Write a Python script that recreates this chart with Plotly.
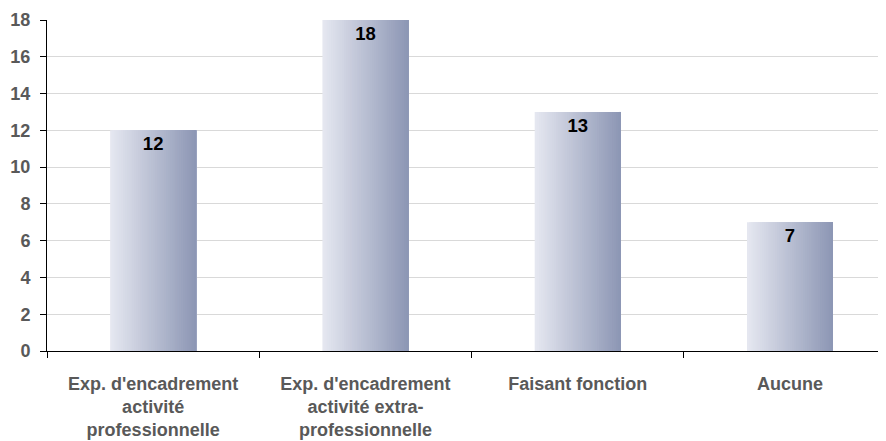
import plotly.graph_objects as go

categories = [
    "Exp. d'encadrement<br>activité<br>professionnelle",
    "Exp. d'encadrement<br>activité extra-<br>professionnelle",
    "Faisant fonction",
    "Aucune",
]
values = [12, 18, 13, 7]
y_ticks = [0, 2, 4, 6, 8, 10, 12, 14, 16, 18]

FONT = "Liberation Sans, Arial, sans-serif"
BAR_W = 0.405
N_SLICES = 40
LEFT_RGB = (0xE6, 0xE8, 0xF1)
RIGHT_RGB = (0x8C, 0x96, 0xB4)


def mix(t):
    r, g, b = (round(a + (c - a) * t) for a, c in zip(LEFT_RGB, RIGHT_RGB))
    return f"rgb({r},{g},{b})"


fig = go.Figure()

# horizontal gradient: overlapping slices, each running to the bar's right edge
for i in range(N_SLICES):
    t = (i + 0.5) / N_SLICES
    fig.add_trace(go.Bar(
        x=categories, y=values,
        width=BAR_W * (1 - i / N_SLICES),
        offset=-BAR_W / 2 + BAR_W * i / N_SLICES,
        marker=dict(color=mix(t), line=dict(width=0)),
        hoverinfo="skip", showlegend=False,
    ))

# value labels
fig.add_trace(go.Bar(
    x=categories, y=values,
    width=BAR_W, offset=-BAR_W / 2,
    marker=dict(color="rgba(0,0,0,0)", line=dict(width=0)),
    text=[str(v) for v in values],
    textposition="inside", insidetextanchor="end", textangle=0,
    textfont=dict(family=FONT, size=18.5, color="black", weight="bold"),
    showlegend=False,
))

fig.update_layout(
    width=886, height=441,
    margin=dict(l=39, r=0, t=12, b=98),
    paper_bgcolor="white", plot_bgcolor="white",
    barmode="overlay", showlegend=False,
    xaxis=dict(
        type="category", range=[-0.5, 3.49],
        tickson="boundaries", ticks="outside", ticklen=6, tickcolor="black",
        showline=True, linecolor="black", linewidth=1,
        showgrid=False, zeroline=False,
        tickfont=dict(family=FONT, size=18, color="#595959", weight="bold"),
        ticklabelstandoff=16,
    ),
    yaxis=dict(
        range=[0, 18], tickvals=y_ticks,
        ticks="outside", ticklen=6, tickcolor="black",
        showline=True, linecolor="black", linewidth=1,
        showgrid=True, gridcolor="#d9d9d9", gridwidth=1, zeroline=False,
        tickfont=dict(family=FONT, size=18, color="#595959", weight="bold"),
        ticklabelstandoff=6,
    ),
)

fig.write_html("out.html")
